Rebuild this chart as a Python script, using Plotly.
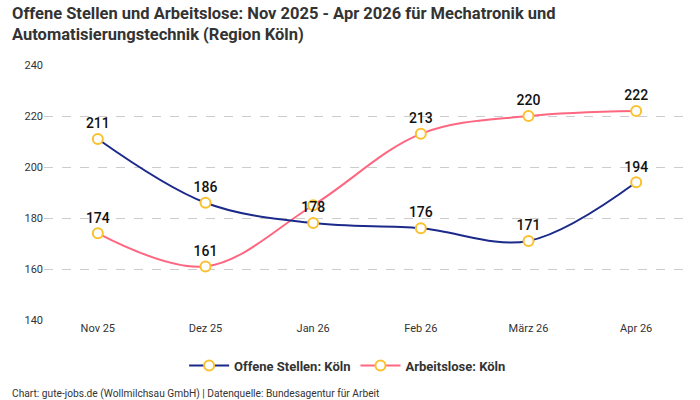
import plotly.graph_objects as go

months = ["Nov 25", "Dez 25", "Jan 26", "Feb 26", "März 26", "Apr 26"]
offene_stellen = [211, 186, 178, 176, 171, 194]
arbeitslose = [174, 161, 185, 213, 220, 222]
y_ticks = [140, 160, 180, 200, 220, 240]

# label of Arbeitslose at Jan 26 is hidden in the reference (overlap)
hidden_arbeitslose_labels = {2}

blue = "#1b2a8a"
pink = "#ff6680"
marker_col = "#fbc02d"

label_font = dict(family="Roboto", size=14, color="#111111", weight=500)

fig = go.Figure()
fig.add_trace(go.Scatter(
    x=months, y=arbeitslose, name="<b>Arbeitslose: Köln</b>", legendrank=2,
    mode="lines+markers+text",
    line=dict(color=pink, width=2, shape="spline", smoothing=1.0),
    marker=dict(size=10, color="white", line=dict(color=marker_col, width=2)),
    text=["" if i in hidden_arbeitslose_labels else str(v) for i, v in enumerate(arbeitslose)],
    textposition="top center",
    textfont=label_font,
))
fig.add_trace(go.Scatter(
    x=months, y=offene_stellen, name="<b>Offene Stellen: Köln</b>", legendrank=1,
    mode="lines+markers+text",
    line=dict(color=blue, width=2, shape="spline", smoothing=1.0),
    marker=dict(size=10, color="white", line=dict(color=marker_col, width=2)),
    text=[str(v) for v in offene_stellen], textposition="top center",
    textfont=label_font,
))

fig.update_layout(
    width=700, height=400,
    paper_bgcolor="white", plot_bgcolor="white",
    margin=dict(l=44, r=10, t=65, b=80),
    font=dict(family="Roboto", size=11, color="#333333"),
    showlegend=True,
    legend=dict(orientation="h", x=0.47, xanchor="center", y=-0.12, yanchor="top",
                font=dict(family="Roboto", size=13, color="#333333"),
                itemwidth=40),
    xaxis=dict(type="category", range=[-0.5, 5.5], showgrid=False, showline=False,
               ticks="", tickfont=dict(size=11, color="#333333")),
    yaxis=dict(range=[140, 240], tickvals=y_ticks, showgrid=True,
               gridcolor="#cccccc", griddash="dash", gridwidth=1,
               zeroline=False, showline=False, ticks="",
               tickfont=dict(size=11, color="#333333")),
)
fig.add_annotation(
    text="<b>Offene Stellen und Arbeitslose: Nov 2025 - Apr 2026 für Mechatronik und<br>Automatisierungstechnik (Region Köln)</b>",
    xref="paper", yref="paper", x=-0.0526, y=1 + 63 / 255, xanchor="left", yanchor="top",
    align="left", showarrow=False,
    font=dict(family="Roboto", size=16.5, color="#333333"),
)
fig.add_annotation(
    text="Chart: gute-jobs.de (Wollmilchsau GmbH) | Datenquelle: Bundesagentur für Arbeit",
    xref="paper", yref="paper", x=-0.0526, y=-0.26, xanchor="left", yanchor="top",
    showarrow=False, font=dict(family="Roboto", size=10.2, color="#333333"),
)
fig.write_html("out.html")
